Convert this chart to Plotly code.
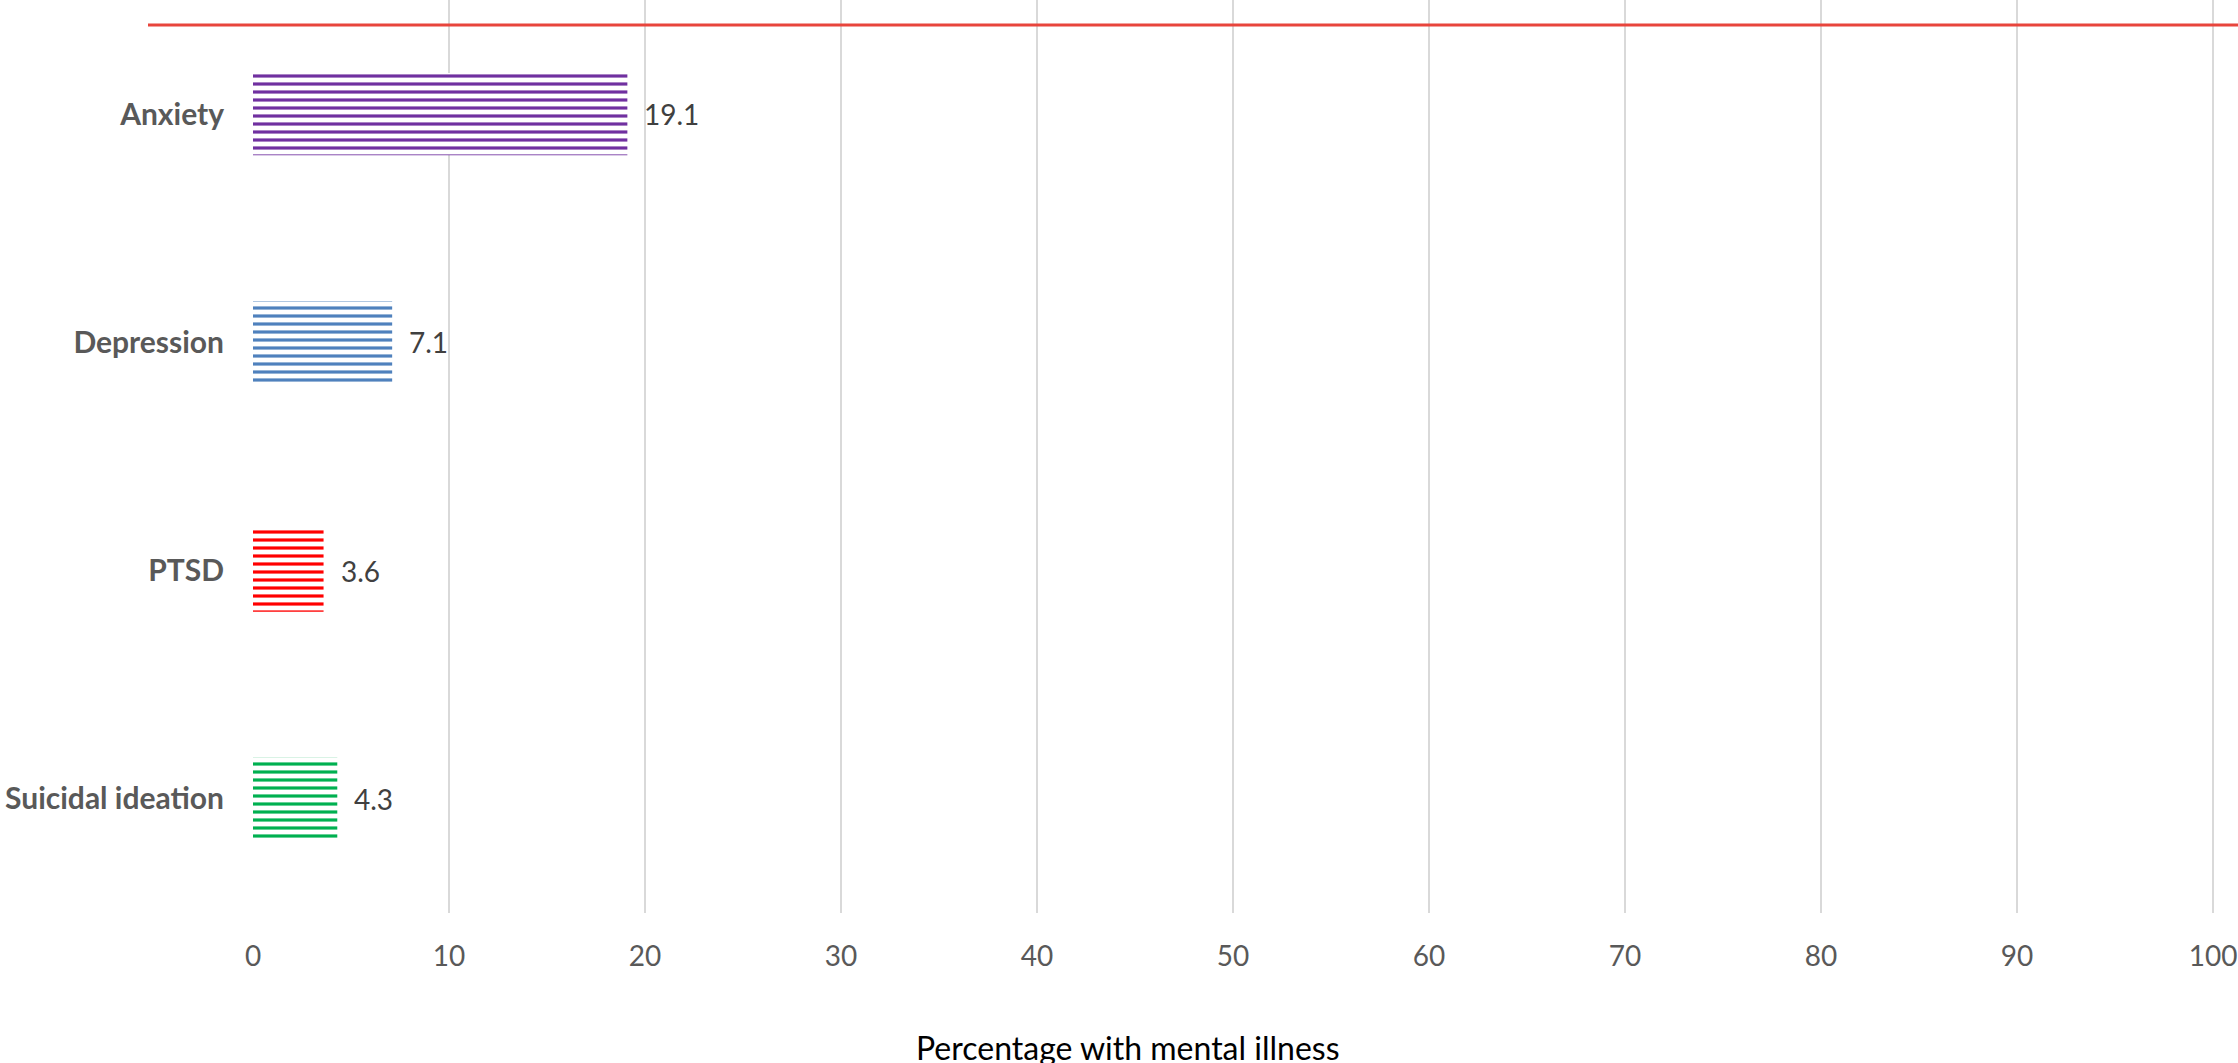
import plotly.graph_objects as go

categories = ["Anxiety", "Depression", "PTSD", "Suicidal ideation"]
values = [19.1, 7.1, 3.6, 4.3]
colors = ["#7030A0", "#4F81BD", "#FF0000", "#00B050"]
x_ticks = [0, 10, 20, 30, 40, 50, 60, 70, 80, 90, 100]
axis_title = "Percentage with mental illness"

W, H = 2238, 1063
ML, MR, MT, MB = 253, 23, 0, 150

fig = go.Figure()
for cat, val, col in zip(categories, values, colors):
    fig.add_trace(go.Bar(
        x=[val], y=[cat], orientation="h", width=0.36,
        marker=dict(
            color=col,
            line=dict(width=0),
            pattern=dict(shape="-", fgcolor=col, bgcolor="white",
                         size=8, solidity=0.4, fillmode="replace"),
        ),
        showlegend=False, hoverinfo="skip",
    ))
    fig.add_annotation(
        x=val, y=cat, xref="x", yref="y", text=f"{val}",
        xanchor="left", yanchor="middle", xshift=15, showarrow=False,
        font=dict(family="Lato, Carlito, Liberation Sans", size=28, color="#404040"),
    )

plot_w = W - ML - MR
plot_h = H - MT - MB

fig.add_annotation(
    x=(1128 - ML) / plot_w, y=(plot_h - 1047) / plot_h, xref="paper", yref="paper",
    text=axis_title, showarrow=False, xanchor="center", yanchor="middle",
    font=dict(family="Liberation Sans Narrow, Lato, Liberation Sans", size=32, color="#000000"),
)

fig.add_shape(
    type="line", xref="paper", yref="paper",
    x0=(148 - ML) / plot_w, x1=(W - ML) / plot_w,
    y0=1 - 25 / plot_h, y1=1 - 25 / plot_h,
    line=dict(color="#E8453C", width=3),
)

fig.update_layout(
    width=W, height=H,
    margin=dict(l=ML, r=MR, t=MT, b=MB, pad=0),
    paper_bgcolor="white", plot_bgcolor="white",
    bargap=0.64,
    xaxis=dict(
        range=[0, 100.1], tickvals=x_ticks, showgrid=True,
        gridcolor="#D9D9D9", gridwidth=1.5, zeroline=False, showline=False,
        ticks="", ticklabelstandoff=24,
        tickfont=dict(family="Lato, Carlito, Liberation Sans", size=28, color="#595959"),
    ),
    yaxis=dict(
        categoryorder="array", categoryarray=categories, autorange="reversed",
        showgrid=False, zeroline=False, showline=False, ticks="",
        ticklabelstandoff=28,
        tickfont=dict(family="Lato, Carlito, Liberation Sans", size=30, color="#595959", weight="bold"),
    ),
)

fig.write_html(
    "out.html",
    config={"displayModeBar": False},
    post_script="document.body.style.margin='0';document.body.style.overflow='hidden';",
)
